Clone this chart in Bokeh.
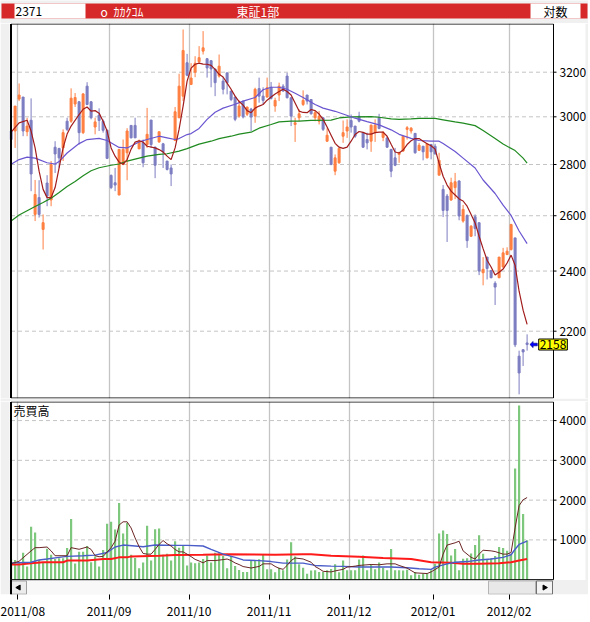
from math import pi
from bokeh.plotting import figure
from bokeh.layouts import column
from bokeh.models import Range1d, FixedTicker, Label, ColumnDataSource
from bokeh.core.properties import value
from bokeh.embed import file_html
from bokeh.resources import INLINE

FONT = "Noto Sans CJK JP"
UP = "#ff7f40"
DOWN = "#7c7cc2"
BG = "#f0f0f0"
GRID = "#c4c4c4"

# ---------------- data ----------------
day_index = list(range(-1, 129))
opens = [2939,  # -1
         2939, 3078, 3087, 2936, 2985, 2605, 2669, 2549, 2726, 2660,  # 0-9
         2871, 2866, 2868, 2981, 2981, 3056, 3066, 2932, 3136, 3066,  # 10-19
         2956, 3008, 2981, 2942, 2756, 2727, 2679, 2800, 2848, 2963,  # 20-29
         2963, 2864, 2889, 2882, 2986, 2871, 2893, 2885, 2814, 2786,  # 30-39
         2899, 2996, 3091, 3244, 3144, 3200, 3249, 3299, 3263, 3254,  # 40-49
         3215, 3182, 3159, 3197, 3114, 3087, 3003, 3069, 3011, 3034,  # 50-59
         3003, 3125, 3091, 3087, 3131, 3047, 3096, 3136, 3182, 3084,  # 60-69
         2967, 2996, 3054, 3096, 3076, 2996, 2981, 2996, 2896, 2871,  # 70-79
         2773, 2807, 2917, 2939, 2984, 2960, 3003, 2932, 2903, 2896,  # 80-89
         2932, 2996, 2912, 2910, 2862, 2827, 2841, 2855, 2946, 2939,  # 90-99
         2929, 2858, 2875, 2827, 2882, 2875, 2757, 2701, 2675, 2660,  # 100-109
         2708, 2734, 2580, 2601, 2524, 2596, 2574, 2394, 2449, 2402,  # 110-119
         2358, 2377, 2414, 2458, 2476, 2518, 2122, 2142, 2163]        # 120-128
highs = [2948,
         3047, 3148, 3087, 2996, 3081, 2738, 2737, 2605, 2757, 2814,
         2896, 2868, 2946, 2996, 3126, 3105, 3069, 3105, 3154, 3069,
         2996, 3037, 2989, 2946, 2760, 2786, 2862, 2903, 2951, 2963,
         2996, 2903, 2903, 3039, 2986, 2874, 2936, 2889, 2814, 2800,
         3043, 3193, 3404, 3286, 3242, 3275, 3323, 3396, 3266, 3254,
         3215, 3283, 3178, 3197, 3114, 3087, 3072, 3069, 3043, 3039,
         3129, 3175, 3131, 3175, 3155, 3084, 3152, 3145, 3197, 3084,
         2996, 3032, 3117, 3096, 3076, 3028, 3025, 2996, 2951, 2871,
         2841, 2866, 2984, 2989, 3010, 2960, 3022, 2932, 2932, 2967,
         2989, 3013, 2939, 2910, 2862, 2868, 2852, 2917, 2960, 2956,
         2929, 2889, 2875, 2885, 2885, 2885, 2848, 2718, 2683, 2747,
         2766, 2737, 2641, 2605, 2565, 2605, 2574, 2449, 2449, 2402,
         2365, 2449, 2482, 2484, 2570, 2518, 2139, 2142, 2190]
lows = [2896,
        2868, 3069, 2917, 2917, 2694, 2580, 2593, 2476, 2636, 2636,
        2766, 2786, 2814, 2939, 2974, 3043, 2882, 2926, 3051, 2989,
        2925, 2939, 2932, 2822, 2702, 2694, 2679, 2797, 2737, 2908,
        2910, 2864, 2789, 2868, 2868, 2745, 2889, 2786, 2776, 2714,
        2896, 2994, 3069, 3182, 3141, 3177, 3244, 3283, 3175, 3131,
        3091, 3175, 3099, 3099, 3069, 2981, 2996, 2993, 3003, 2939,
        2974, 3062, 3054, 3084, 3076, 3022, 3069, 3111, 3081, 2960,
        2893, 2981, 3047, 3054, 3010, 2981, 2967, 2939, 2893, 2797,
        2757, 2803, 2889, 2910, 2932, 2910, 2976, 2868, 2862, 2852,
        2893, 2946, 2896, 2868, 2749, 2793, 2807, 2852, 2903, 2928,
        2844, 2855, 2817, 2825, 2821, 2841, 2757, 2595, 2503, 2656,
        2663, 2583, 2574, 2482, 2521, 2524, 2386, 2351, 2371, 2375,
        2285, 2375, 2412, 2456, 2472, 2150, 2008, 2092, 2139]
closes = [2903,
          3047, 3096, 2939, 2960, 2762, 2681, 2605, 2574, 2675, 2800,
          2843, 2827, 2932, 2946, 3082, 3085, 2932, 3101, 3054, 2996,
          2978, 2984, 2942, 2825, 2708, 2718, 2862, 2862, 2939, 2910,
          2910, 2896, 2807, 2925, 2882, 2797, 2936, 2852, 2780, 2762,
          3022, 3136, 3302, 3186, 3173, 3242, 3268, 3315, 3220, 3215,
          3152, 3228, 3122, 3152, 3076, 2989, 3047, 3000, 3043, 2999,
          3122, 3091, 3072, 3129, 3081, 3072, 3136, 3114, 3084, 3003,
          2974, 3013, 3072, 3069, 3013, 3018, 3003, 2946, 2921, 2800,
          2827, 2866, 2932, 2956, 2956, 2917, 2981, 2871, 2889, 2964,
          2964, 2950, 2932, 2871, 2773, 2797, 2848, 2917, 2953, 2951,
          2848, 2879, 2852, 2885, 2852, 2843, 2817, 2620, 2620, 2727,
          2731, 2599, 2624, 2508, 2561, 2552, 2400, 2406, 2409, 2377,
          2345, 2449, 2464, 2470, 2567, 2157, 2071, 2135, 2158]
volumes = [520,
           496, 447, 675, 333, 1333, 1187, 496, 439, 780, 626,
           520, 537, 537, 797, 1528, 407, 699, 699, 846, 439,
           585, 333, 748, 1406, 1455, 1260, 1927, 1163, 1423, 626,
           545, 285, 431, 1358, 480, 1268, 1285, 626, 650, 480,
           967, 805, 870, 358, 431, 415, 431, 520, 610, 431,
           675, 659, 593, 285, 593, 341, 244, 195, 195, 480,
           472, 512, 634, 260, 260, 187, 301, 236, 504, 943,
           585, 390, 301, 146, 228, 236, 195, 195, 236, 268,
           390, 187, 480, 236, 236, 236, 504, 610, 236, 374,
           260, 431, 301, 236, 772, 236, 236, 228, 252, 114,
           195, 122, 146, 146, 236, 398, 1163, 1236, 1146, 610,
           772, 236, 528, 537, 659, 870, 1114, 650, 520, 537,
           593, 821, 797, 724, 642, 2797, 4382, 1650, 992]

# moving averages (day index, value)
ma_short_pts = [(-1, 2934), (1, 2974), (3, 2985), (4, 2939), (5, 2868), (6, 2773), (7, 2701), (8, 2669),
                (9, 2669), (10, 2708), (11, 2786), (12, 2868), (13, 2926), (14, 2960), (16, 3010), (17, 3033),
                (18, 3043), (19, 3025), (20, 3027), (21, 3016), (22, 2981), (23, 2939), (24, 2868), (25, 2834),
                (26, 2810), (27, 2801), (28, 2820), (29, 2863), (30, 2892), (31, 2898), (32, 2892), (33, 2875),
                (35, 2868), (36, 2861), (37, 2851), (38, 2834), (39, 2820), (40, 2868), (41, 2947), (42, 3047),
                (43, 3159), (44, 3219), (45, 3237), (46, 3242), (47, 3238), (48, 3237), (49, 3232), (50, 3213),
                (51, 3190), (52, 3178), (53, 3150), (54, 3122), (55, 3091), (56, 3067), (57, 3051), (58, 3027),
                (59, 3018), (60, 3038), (61, 3047), (62, 3054), (63, 3073), (64, 3087), (65, 3101), (66, 3112),
                (67, 3122), (68, 3112), (69, 3096), (70, 3061), (71, 3025), (72, 3019), (73, 3018), (74, 3032),
                (75, 3027), (76, 3012), (77, 2989), (78, 2956), (79, 2921), (80, 2887), (81, 2871), (82, 2866),
                (83, 2871), (84, 2896), (85, 2924), (86, 2937), (87, 2933), (88, 2926), (89, 2926), (90, 2932),
                (91, 2934), (92, 2934), (93, 2917), (94, 2883), (95, 2851), (96, 2847), (97, 2859), (98, 2882),
                (99, 2898), (100, 2907), (101, 2907), (102, 2896), (103, 2885), (104, 2877), (105, 2863),
                (106, 2805), (107, 2753), (108, 2718), (109, 2694), (110, 2679), (111, 2664), (112, 2656),
                (113, 2636), (114, 2605), (115, 2573), (116, 2524), (117, 2479), (118, 2438), (119, 2414),
                (120, 2386), (121, 2396), (122, 2407), (123, 2428), (124, 2456), (125, 2420), (126, 2331),
                (127, 2268), (128, 2222)]
ma_mid_pts = [(-1, 2801), (1, 2820), (3, 2830), (5, 2826), (8, 2807), (10, 2802), (11, 2812), (13, 2847),
              (16, 2886), (18, 2903), (21, 2908), (23, 2899), (26, 2870), (28, 2868), (31, 2893), (33, 2903),
              (36, 2917), (38, 2910), (40, 2903), (41, 2907), (43, 2924), (44, 2928), (46, 2950), (48, 2989),
              (50, 3020), (52, 3038), (55, 3055), (57, 3069), (60, 3085), (62, 3120), (64, 3131), (66, 3131),
              (68, 3122), (70, 3104), (72, 3085), (75, 3054), (77, 3038), (80, 3024), (82, 3012), (85, 2994),
              (88, 2979), (91, 2965), (94, 2944), (96, 2925), (99, 2908), (101, 2899), (104, 2896), (106, 2896),
              (107, 2886), (110, 2853), (112, 2826), (115, 2786), (117, 2738), (120, 2685), (122, 2640),
              (124, 2601), (126, 2543), (128, 2497)]
ma_long_pts = [(-1, 2580), (1, 2603), (3, 2619), (5, 2635), (7, 2650), (9, 2667), (11, 2689), (13, 2712),
               (15, 2732), (17, 2755), (19, 2775), (21, 2787), (24, 2797), (26, 2802), (28, 2814), (31, 2826),
               (33, 2834), (36, 2841), (38, 2844), (41, 2855), (43, 2865), (46, 2884), (49, 2896), (51, 2907),
               (54, 2917), (56, 2926), (59, 2934), (61, 2951), (64, 2967), (66, 2978), (69, 2981), (71, 2981),
               (74, 2985), (79, 2986), (81, 2995), (84, 3000), (89, 3001), (91, 2998), (94, 2991), (96, 2989),
               (99, 2991), (101, 2993), (105, 2993), (107, 2987), (110, 2978), (112, 2973), (115, 2962),
               (117, 2941), (120, 2907), (122, 2884), (125, 2857), (127, 2826), (128, 2806)]
vol_ma_short_pts = [(-1, 398), (1, 463), (4, 724), (5, 805), (6, 805), (8, 821), (9, 724), (10, 602), (13, 602),
                    (14, 805), (16, 764), (18, 821), (19, 760), (20, 602), (21, 577), (22, 585), (24, 805),
                    (25, 967), (26, 1374), (27, 1455), (28, 1455), (29, 1300), (30, 1050), (31, 830), (32, 659),
                    (33, 642), (34, 642), (35, 760), (36, 886), (37, 984), (38, 902), (39, 846), (40, 760),
                    (41, 699), (42, 699), (43, 642), (44, 580), (45, 510), (46, 470), (47, 423), (48, 480),
                    (50, 480), (52, 504), (53, 520), (54, 480), (55, 420), (56, 380), (57, 330), (59, 293),
                    (61, 333), (62, 398), (64, 398), (65, 333), (66, 285), (67, 260), (68, 358), (69, 480),
                    (70, 545), (72, 520), (74, 439), (75, 330), (76, 276), (77, 210), (79, 195), (80, 220),
                    (82, 260), (83, 317), (85, 340), (86, 358), (89, 382), (91, 374), (93, 398), (95, 398),
                    (96, 358), (98, 290), (99, 230), (100, 171), (103, 154), (104, 195), (106, 317), (107, 642),
                    (108, 870), (110, 927), (111, 967), (112, 724), (114, 561), (115, 520), (116, 642),
                    (117, 740), (119, 724), (120, 707), (122, 642), (123, 642), (124, 683), (125, 1300),
                    (126, 1862), (127, 2008), (128, 2065)]
vol_ma_mid_pts = [(-1, 423), (4, 439), (6, 496), (8, 520), (11, 561), (13, 585), (17, 602), (20, 618), (23, 683),
                  (25, 821), (27, 870), (30, 846), (32, 829), (35, 870), (40, 862), (43, 862), (47, 846),
                  (49, 764), (52, 642), (55, 561), (57, 496), (61, 480), (64, 455), (67, 415), (72, 415),
                  (75, 358), (79, 341), (82, 333), (86, 317), (94, 317), (98, 301), (101, 276), (104, 260),
                  (105, 317), (108, 398), (110, 439), (113, 455), (116, 496), (119, 520), (122, 561),
                  (124, 626), (125, 764), (126, 886), (128, 967)]
vol_ma_long_pts = [(-1, 382), (1, 382), (4, 415), (7, 439), (12, 439), (13, 480), (18, 480), (22, 520),
                   (24, 520), (26, 561), (28, 561), (29, 585), (36, 602), (40, 618), (47, 626), (53, 642),
                   (65, 626), (72, 642), (74, 642), (79, 602), (86, 577), (92, 545), (99, 520), (104, 439),
                   (109, 423), (112, 398), (116, 398), (121, 415), (124, 439), (126, 480), (128, 520)]

month_first_day = [1, 24, 44, 64, 84, 105, 124]
month_labels = ["2011/08", "2011/09", "2011/10", "2011/11", "2011/12", "2012/01", "2012/02"]
price_ticks = [2200, 2400, 2600, 2800, 3000, 3200]
volume_ticks = [1000, 2000, 3000, 4000]
last_price_label = "2158"

# ---------------- geometry (4 px per trading day; every frame spans the full width) ----------------
month_bounds = [d - 0.5 for d in month_first_day]
X0, X1 = -3.65, 143.35      # whole figure width
X_LEFT = -1.025             # chart left border
X_DATA_END = 134.6          # chart right border
X_GRAY = -1.4               # end of the gray left band
X_STRIP = 142.6             # start of the gray right strip
P_LO, P_HI = 1995.9, 3433.6
V_LO, V_HI = -373, 4480
N_P, N_V = len(price_ticks), len(volume_ticks)


def new_panel(height, y_range, y_type="linear", border_bottom=0, with_x_axis=False):
    f = figure(width=588, height=height, x_range=Range1d(X0, X1), y_range=y_range,
               y_axis_type=y_type, y_axis_location=None,
               x_axis_location="below" if with_x_axis else None,
               toolbar_location=None, output_backend="svg",
               min_border_left=0, min_border_right=0, min_border_top=0, min_border_bottom=border_bottom)
    f.outline_line_color = None
    f.background_fill_color = "white"
    f.xgrid.ticker = FixedTicker(ticks=month_bounds)
    f.xgrid.grid_line_color = GRID
    f.xgrid.grid_line_width = 1.3
    f.ygrid.visible = False
    return f


def frame_decor(f, lo, hi, top_edge, bottom_edge):
    # white label column, gray side bands, chart border
    f.quad(left=[X_DATA_END], right=[X1], bottom=[lo], top=[hi], fill_color="white", line_color=None)
    f.quad(left=[X_STRIP, X0], right=[X1, X_GRAY], bottom=[lo, lo], top=[hi, hi], fill_color=BG, line_color=None)
    f.quad(left=[X_LEFT], right=[X_DATA_END], bottom=[bottom_edge], top=[top_edge], fill_color=None,
           line_color="black", line_width=1)
    f.segment(x0=[X_LEFT], x1=[X_LEFT], y0=[bottom_edge], y1=[top_edge], line_color="black", line_width=2)


def right_scale(f, ticks):
    n = len(ticks)
    f.segment(x0=[X_DATA_END] * n, x1=[X_DATA_END + 0.75] * n, y0=ticks, y1=ticks, line_color="black")
    f.text(x=[X_DATA_END + 1.5] * n, y=ticks, text=[str(t) for t in ticks],
           text_font=value(FONT), text_font_size="12px", text_baseline="middle", text_align="left",
           text_color="black")


# ---------------- header ----------------
hdr = figure(width=588, height=23, x_range=Range1d(0, 588), y_range=Range1d(23, 0),
             toolbar_location=None, output_backend="svg", min_border=0,
             x_axis_location=None, y_axis_location=None)
hdr.grid.visible = False
hdr.outline_line_color = None
hdr.background_fill_color = BG
hdr.border_fill_color = BG
hdr.quad(left=[1], right=[587], top=[3], bottom=[18], fill_color="#d62828", line_color=None)
hdr.quad(left=[14, 530], right=[85, 580], top=[3, 3], bottom=[18, 18], fill_color="white", line_color=None)
hdr.text(x=[15, 543], y=[11, 11], text=["2371", "対数"], text_color="black",
         text_font=value(FONT), text_font_size="12px", text_baseline="middle")
hdr.text(x=[100, 113, 236], y=[11, 11, 11], text=["o", "ｶｶｸｺﾑ", "東証1部"], text_color="white",
         text_font=value(FONT), text_font_size="12px", text_baseline="middle")

# ---------------- price panel ----------------
p = new_panel(378, Range1d(P_LO, P_HI), y_type="log", border_bottom=3)
p.border_fill_color = BG
p.segment(x0=[X_LEFT] * N_P, x1=[X_DATA_END] * N_P, y0=price_ticks, y1=price_ticks,
          line_color=GRID, line_dash="4 3", line_width=1)

colors = [UP if c >= o else DOWN for o, c in zip(opens, closes)]
src = ColumnDataSource(dict(x=day_index, high=highs, low=lows,
                            top=[max(o, c) for o, c in zip(opens, closes)],
                            bottom=[min(o, c) for o, c in zip(opens, closes)],
                            color=colors))
p.segment(x0="x", y0="low", x1="x", y1="high", line_color="color", line_width=1, source=src)
p.vbar(x="x", width=0.5, top="top", bottom="bottom", fill_color="color", line_color="color",
       line_width=1, source=src)
for pts, col in [(ma_long_pts, "#1f8a1f"), (ma_mid_pts, "#6a55d0"), (ma_short_pts, "#a21c1c")]:
    xs, ys = zip(*pts)
    p.line(list(xs), list(ys), line_color=col, line_width=1.2)

frame_decor(p, P_LO, P_HI, 3431.1, 1997.3)
right_scale(p, price_ticks)

# last price marker
last_k = day_index[-1]
c = closes[-1]
p.patch([last_k + 0.7, last_k + 1.5, last_k + 1.5, last_k + 2.55, last_k + 2.55, last_k + 1.5, last_k + 1.5],
        [c, c * 1.0045, c * 1.0019, c * 1.0019, c * 0.9981, c * 0.9981, c * 0.9955],
        fill_color="#0000ff", line_color="#00007a", line_width=0.6)
p.add_layout(Label(x=last_k + 2.9, y=c, text=last_price_label, text_font=FONT, text_font_size="12px",
                   text_baseline="middle", text_color="black", background_fill_color="#ffff00",
                   border_line_color="black", padding=1))

# ---------------- volume panel ----------------
v = new_panel(220, Range1d(V_LO, V_HI), border_bottom=21, with_x_axis=True)
v.border_fill_color = "white"
v.segment(x0=[X_LEFT] * N_V, x1=[X_DATA_END] * N_V, y0=volume_ticks, y1=volume_ticks,
          line_color=GRID, line_dash="4 3", line_width=1)
ax = v.xaxis[0]
ax.ticker = FixedTicker(ticks=month_bounds)
ax.major_label_overrides = {b: lab for b, lab in zip(month_bounds, month_labels)}
ax.axis_line_color = None
ax.major_tick_line_color = "black"
ax.minor_tick_line_color = None
ax.major_tick_in = 0
ax.major_tick_out = 5
ax.major_label_standoff = 2
ax.major_label_text_font = FONT
ax.major_label_text_font_size = "12px"
ax.major_label_text_color = "black"

v.vbar(x=day_index, width=0.55, top=volumes, bottom=0, fill_color="#7dc87d", line_color=None)
for pts, col, w in [(vol_ma_long_pts, "#ff1a1a", 2), (vol_ma_mid_pts, "#4a5cc8", 1.4),
                    (vol_ma_short_pts, "#6b2424", 1)]:
    xs, ys = zip(*pts)
    v.line(list(xs), list(ys), line_color=col, line_width=w)

# scroll bar strip under the volume panel
v.quad(left=[X0], right=[X1], bottom=[V_LO], top=[-8], fill_color=BG, line_color=None)
frame_decor(v, -8, V_HI, 4468, 0)
v.quad(left=[2.85], right=[118.35], bottom=[V_LO], top=[-32], fill_color="#f8f8f8", line_color=None)
v.quad(left=[X_LEFT, 118.35, 130.35], right=[2.85, 130.1, 134.35], bottom=[V_LO + 8] * 3, top=[-32] * 3,
       fill_color=["#ececec", "#e8e8e8", "#f4f4f4"], line_color=["#a0a0a0", "#b4b4b4", "#707070"],
       line_width=1)
v.scatter(x=[0.9, 132.35], y=[(V_LO - 24) / 2] * 2, marker="triangle", size=5,
          angle=[pi / 2, -pi / 2], fill_color="black", line_color="black")
v.segment(x0=[X_LEFT], x1=[X_LEFT], y0=[V_LO], y1=[0], line_color="black", line_width=2)
right_scale(v, volume_ticks)
v.add_layout(Label(x=-0.4, y=4465, text="売買高", text_font=FONT, text_font_size="12px",
                   text_baseline="top", text_color="black"))

layout = column(hdr, p, v)
open("out.html", "w").write(file_html(layout, INLINE))
